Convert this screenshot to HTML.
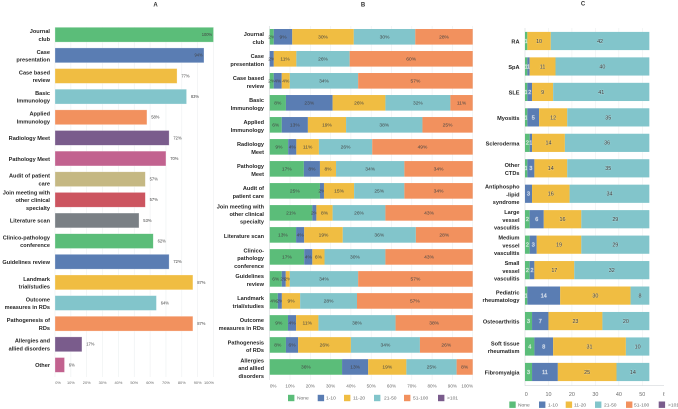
<!DOCTYPE html>
<html lang="en">
<head>
<meta charset="utf-8">
<title>Survey charts</title>
<style>
html,body{margin:0;padding:0;background:#fff;width:678px;height:409px;overflow:hidden}
svg{display:block;font-family:"Liberation Sans",sans-serif}
</style>
</head>
<body>
<svg id="chart" xmlns="http://www.w3.org/2000/svg" width="678" height="409" viewBox="0 0 678 409">
  <defs><clipPath id="clip-c"><rect x="500" y="0" width="164.5" height="409"/></clipPath></defs>
  <text x="155.5" y="6.5" font-size="6" font-weight="bold" fill="#333" text-anchor="middle">A</text>
  <text x="363" y="6.5" font-size="6" font-weight="bold" fill="#333" text-anchor="middle">B</text>
  <text x="583" y="5.5" font-size="6" font-weight="bold" fill="#333" text-anchor="middle">C</text>
  <g id="panel-a"></g>
  <g id="panel-b"></g>
  <g id="panel-c"></g>
</svg>
<script>
// Panel A data
const categoriesA = [["Journal","club"],["Case","presentation"],["Case based","review"],["Basic","Immunology"],["Applied","Immunology"],["Radiology Meet"],["Pathology Meet"],["Audit of patient","care"],["Join meeting with","other clinical","specialty"],["Literature scan"],["Clinico-pathology","conference"],["Guidelines review"],["Landmark","trial/studies"],["Outcome","measures in RDs"],["Pathogenesis of","RDs"],["Allergies and","allied disorders"],["Other"]];
const valuesA = [100,94,77,83,58,72,70,57,57,53,62,72,87,64,87,17,6];
const ticksA = [0,10,20,30,40,50,60,70,80,90,100];

// Panel B data
const categoriesB = [["Journal","club"],["Case","presentation"],["Case based","review"],["Basic","Immunology"],["Applied","Immunology"],["Radiology","Meet"],["Pathology","Meet"],["Audit of","patient care"],["Join meeting with","other clinical","specialty"],["Literature scan"],["Clinico-","pathology","conference"],["Guidelines","review"],["Landmark","trial/studies"],["Outcome","measures in RDs"],["Pathogenesis","of RDs"],["Allergies","and allied","disorders"]];
const noneB =    [2,0,2,8,6,9,17,25,21,13,17,6,4,9,8,36];
const oneTo10B = [9,2,4,23,13,4,8,2,2,4,4,2,2,4,6,13];
const elevenTo20B = [30,11,4,26,19,11,8,15,8,19,6,2,9,11,26,19];
const twentyOneTo50B = [30,26,34,32,38,26,34,25,26,36,30,34,28,38,34,25];
const fiftyOneTo100B = [28,60,57,11,25,49,34,34,43,28,43,57,57,38,26,8];
const ticksB = [0,10,20,30,40,50,60,70,80,90,100];

// Panel C data
const categoriesC = [["RA"],["SpA"],["SLE"],["Myositis"],["Scleroderma"],["Other","CTDs"],["Antiphospho","-lipid","syndrome"],["Large","vessel","vasculitis"],["Medium","vessel","vasculitis"],["Small","vessel","vasculitis"],["Pediatric","rheumatology"],["Osteoarthritis"],["Soft tissue","rheumatism"],["Fibromyalgia"]];
const noneC =    [1,1,1,1,2,1,0,2,2,2,1,3,4,3];
const oneTo10C = [0,1,2,5,1,3,3,6,3,2,14,7,8,11];
const elevenTo20C = [10,11,9,12,14,14,16,16,19,17,30,23,31,25];
const twentyOneTo50C = [42,40,41,35,36,35,34,29,29,32,8,20,10,14];
const ticksC = [0,10,20,30,40,50,60];

// Legend and colours
const legendLabels = ["None","1-10","11-20","21-50","51-100",">101"];
const seriesColors = ["#5bbd79","#5a7db3","#f0bd42","#82c5cb","#f2915e","#7a5c8c"];
const labelColorsC = ["#eef2f2","#e6ebf2","#3a3a3a","#3a3a3a"];
const colorsA = ["#5bbd79","#5a7db3","#f0bd42","#82c5cb","#f2915e","#7a5c8c","#c2628f","#c5b883","#cc5560","#7a8085"];

const NS = "http://www.w3.org/2000/svg";
function make(parent, tag, attrs, text) {
  const el = document.createElementNS(NS, tag);
  for (const k in attrs) el.setAttribute(k, attrs[k]);
  if (text !== undefined) el.textContent = text;
  parent.appendChild(el);
  
  return el;
}
const LABEL_COLOR = "#262626";
const TICK_COLOR = "#6a6a6a";
const GRID = "#eceff0";

function rowLabel(parent, lines, right, cy) {
  const lh = 7.7, fs = 5.6;
  lines.forEach(function (line, i) {
    const y = cy + (i - (lines.length - 1) / 2) * lh + fs * 0.35;
    const t = make(parent, "text", {x: right, y: y, "font-size": fs, "font-weight": "bold", fill: LABEL_COLOR, "text-anchor": "end"}, line);
    
  });
}

function legend(parent, swatchXs, textXs, y) {
  legendLabels.forEach(function (name, i) {
    const r = make(parent, "rect", {x: swatchXs[i], y: y - 3.2, width: 6.4, height: 6.4, fill: seriesColors[i]});
    
    const t = make(parent, "text", {x: textXs[i], y: y + 1.7, "font-size": 4.9, fill: TICK_COLOR}, name);
    
  });
}

/* ---------- Panel A ---------- */
(function () {
  const g = document.getElementById("panel-a");
  const x = function (v) { return 55 + v * 1.585; };
  const y = function (i) { return 34.7 + i * 20.64; };
  const bh = 14.8;
  ticksA.forEach(function (t) {
    const l = make(g, "line", {x1: x(t), x2: x(t), y1: 27, y2: 377, stroke: GRID, "stroke-width": 0.6});
    
    const px = t === 0 ? x(t) + 3 : (t === 100 ? x(t) - 4.5 : x(t));
    const lab = make(g, "text", {x: px, y: 384, "font-size": 3.9, fill: TICK_COLOR, "text-anchor": "middle"}, t + "%");
    
  });
  valuesA.forEach(function (v, i) {
    const cy = y(i);
    const bar = make(g, "rect", {x: x(0), y: cy - bh / 2, width: x(v) - x(0), height: bh, fill: colorsA[i % colorsA.length], stroke: "#fff", "stroke-opacity": 0.45, "stroke-width": 0.6});
    
    rowLabel(g, categoriesA[i], 50, cy + 0.3);
    const inside = v >= 90;
    const val = make(g, "text", {x: inside ? x(v) - 1.3 : x(v) + 4.3, y: cy + 1.4, "font-size": 4.1, fill: "#444", "text-anchor": inside ? "end" : "start"}, v + "%");
    
  });
})();

/* ---------- Panel B ---------- */
(function () {
  const g = document.getElementById("panel-b");
  const x = function (p) { return 269.7 + p * 2.03; };
  const y = function (i) { return 36.8 + i * 22.01; };
  const bh = 15.6;
  const series = [noneB, oneTo10B, elevenTo20B, twentyOneTo50B, fiftyOneTo100B];
  ticksB.forEach(function (t) {
    const l = make(g, "line", {x1: x(t), x2: x(t), y1: 26, y2: 380, stroke: t === 0 ? "#d4d8da" : GRID, "stroke-width": 0.6});
    
    const px = t === 0 ? x(t) + 3.5 : (t === 100 ? x(t) - 5.5 : x(t));
    const lab = make(g, "text", {x: px, y: 387.7, "font-size": 4.6, fill: TICK_COLOR, "text-anchor": "middle"}, t + "%");
    
  });
  categoriesB.forEach(function (lines, i) {
    const cy = y(i);
    rowLabel(g, lines, 264, cy + 1.2);
    const total = series.reduce(function (s, a) { return s + a[i]; }, 0);
    let acc = 0;
    series.forEach(function (arr, k) {
      const v = arr[i];
      if (!v) return;
      const p0 = acc / total * 100, p1 = (acc + v) / total * 100;
      acc += v;
      const seg = make(g, "rect", {x: x(p0), y: cy - bh / 2, width: x(p1) - x(p0), height: bh, fill: seriesColors[k]});
      
      const lab = make(g, "text", {x: (x(p0) + x(p1)) / 2, y: cy + 1.7, "font-size": 4.9, fill: "#444", "text-anchor": "middle"}, v + "%");
      
    });
  });
  legend(g, [288,317.7,344,374,404,438], [297,326,353,384,413,447], 398);
})();

/* ---------- Panel C ---------- */
(function () {
  const g = document.getElementById("panel-c");
  const x = function (v) { return 525 + v * 2.346; };
  const y = function (i) { return 41 + i * 25.46; };
  const bh = 18.2;
  const series = [noneC, oneTo10C, elevenTo20C, twentyOneTo50C];
  const clipped = make(g, "g", {"clip-path": "url(#clip-c)"});
  
  ticksC.forEach(function (t) {
    const l = make(clipped, "line", {x1: x(t), x2: x(t), y1: 28, y2: 385.7, stroke: t === 0 ? "#d4d8da" : GRID, "stroke-width": 0.6});
    
    const lab = make(clipped, "text", {x: t === 0 ? x(t) + 1.2 : x(t), y: 396, "font-size": 5.4, fill: TICK_COLOR, "text-anchor": "middle"}, String(t));
    
  });
  const base = make(clipped, "line", {x1: x(0), x2: 664, y1: 385.7, y2: 385.7, stroke: "#d4d8da", "stroke-width": 0.6});
  
  categoriesC.forEach(function (lines, i) {
    const cy = y(i);
    rowLabel(g, lines, 519.5, cy + 0.7);
    let acc = 0;
    series.forEach(function (arr, k) {
      const v = arr[i];
      if (!v) return;
      const seg = make(g, "rect", {x: x(acc), y: cy - bh / 2, width: x(acc + v) - x(acc), height: bh, fill: seriesColors[k]});
      
      const lab = make(g, "text", {x: x(acc + v / 2), y: cy + 1.9, "font-size": 5.4, fill: labelColorsC[k], stroke: "#fff", "stroke-opacity": 0.3, "stroke-width": 0.7, "paint-order": "stroke", "text-anchor": "middle"}, String(v));
      
      acc += v;
    });
  });
  legend(g, [509.3,539,565.7,595,626,658.7], [518,548,574,604,634,668], 404.7);
})();
</script>
</body>
</html>
